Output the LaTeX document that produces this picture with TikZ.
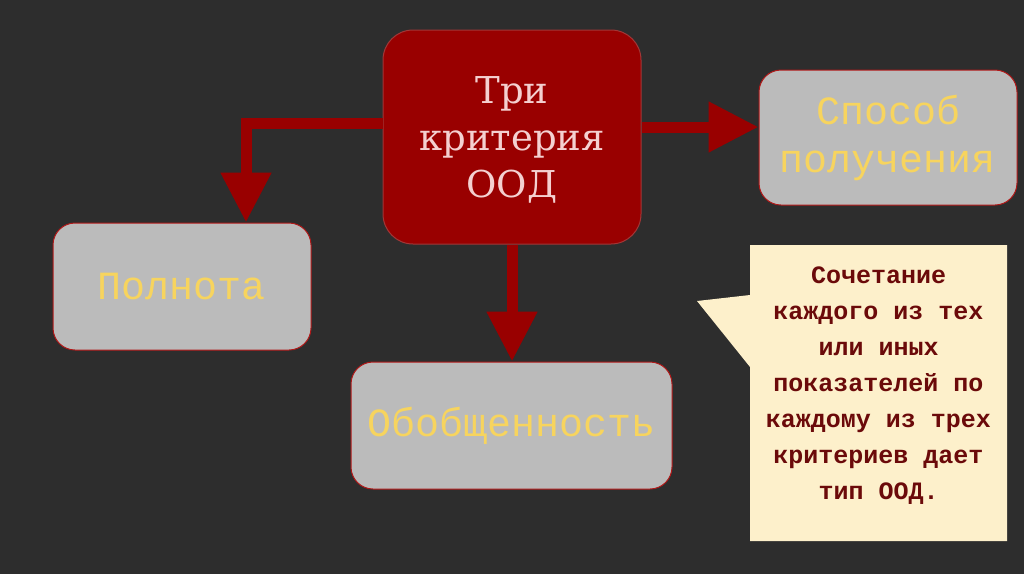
\documentclass[tikz,border=0pt]{standalone}
\usepackage{fontspec}
\setmainfont{DejaVu Serif}
\newfontfamily\monofnt{Liberation Mono}
\usetikzlibrary{arrows.meta}
\definecolor{bg}{HTML}{2D2D2D}
\definecolor{darkred}{HTML}{990000}
\definecolor{boxgray}{HTML}{BBBBBB}
\definecolor{boxedge}{HTML}{B01818}
\definecolor{ytext}{HTML}{F7D45E}
\definecolor{ptext}{HTML}{F4D0D0}
\definecolor{cream}{HTML}{FDF0CB}
\definecolor{ctext}{HTML}{6B0A0A}
\tikzset{
  graybox/.style={draw=boxedge, line width=1pt, fill=boxgray, rounded corners=22pt,
    minimum width=258pt, inner sep=0pt, align=center, text=ytext,
    font=\monofnt\fontsize{40}{48}\selectfont},
  mainbox/.style={draw=boxedge!70!gray, line width=1pt, fill=darkred, rounded corners=30pt,
    minimum width=258pt, minimum height=214pt, inner sep=0pt, align=center, text=ptext,
    font=\fontsize{37}{47}\selectfont},
  blockarrow/.style={draw=darkred, line width=11pt, line join=miter,
    -{Triangle[width=48pt,length=50pt]}},
}
\begin{document}
\begin{tikzpicture}[x=1pt,y=-1pt]
\fill[bg] (0,0) rectangle (1024,574);
\useasboundingbox (0,0) rectangle (1024,574);

\node[mainbox] (main) at (512,137) {};
\node[align=center, text=ptext, font=\fontsize{37}{47}\selectfont] (maintext) at (512,140) {Три\\критерия\\ООД};
\node[graybox, minimum height=135pt] (sposob) at (888,137.5) {Способ\\получения};
\node[graybox, minimum height=127pt] (poln) at (182,286.5) {Полнота};
\node[graybox, minimum width=321pt, minimum height=127pt] (obob) at (511.5,425.5) {Обобщенность};

% callout
\fill[cream] (750,245) -- (1007,245) -- (1007,541) -- (750,541) -- (750,367) -- (697,301) -- (750,295) -- cycle;
\node[align=center, text=ctext, font=\monofnt\bfseries\fontsize{25}{36}\selectfont]
  (note) at (878.5,385.5) {Сочетание\\каждого из тех\\или иных\\показателей по\\каждому из трех\\критериев дает\\тип ООД.};

% arrows
\coordinate (lturn) at (246,123);
\draw[blockarrow] (main.west |- lturn) -- (lturn) -- (lturn |- poln.north);
\draw[blockarrow] (main.east |- 0,127) -- (sposob.west |- 0,127);
\draw[blockarrow] (main.south -| 512,0) -- (obob.north -| 512,0);
\end{tikzpicture}
\end{document}
